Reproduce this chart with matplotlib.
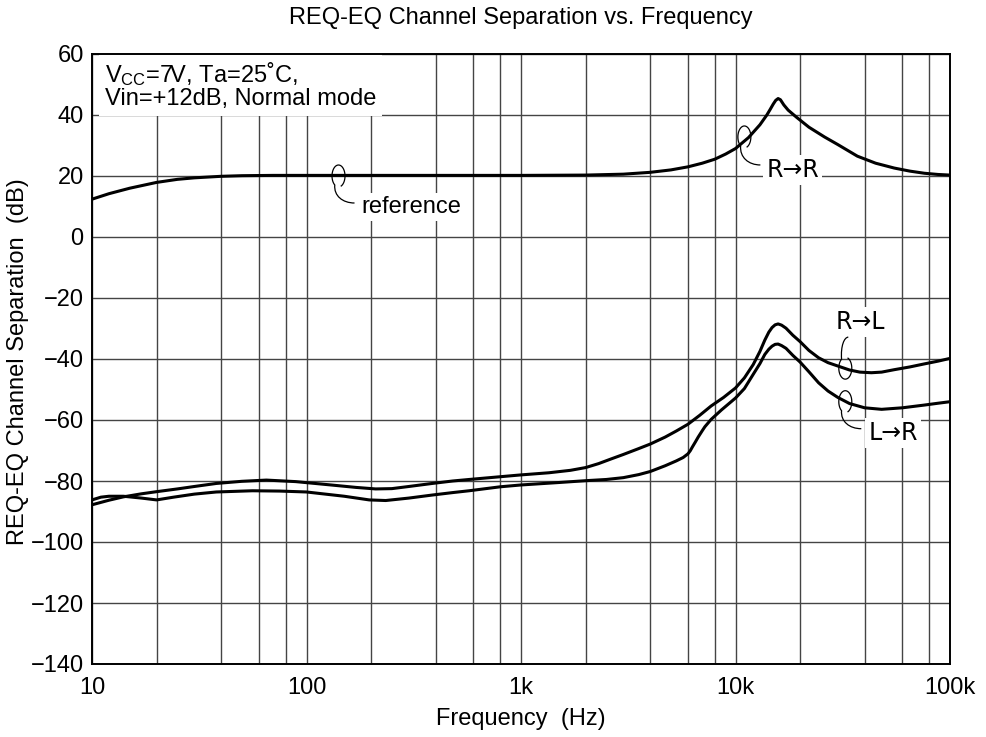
import numpy as np
import matplotlib
matplotlib.use('Agg')
import matplotlib.pyplot as plt
import matplotlib.transforms as mtransforms
from matplotlib.path import Path
from matplotlib.patches import PathPatch

plt.rcParams['font.family'] = ['Liberation Sans', 'DejaVu Sans']
plt.rcParams['mathtext.fontset'] = 'custom'
plt.rcParams['mathtext.rm'] = 'Liberation Sans'
plt.rcParams['mathtext.it'] = 'Liberation Sans:italic'

# reference / R->R (one continuous trace)
f_rr = [10, 12, 15, 20, 25, 30, 40, 50, 70, 100, 200, 500, 1000, 2000, 3000, 4000,
        5000, 6000, 7000, 8000, 9000, 10000, 11500, 13000, 14000, 14500, 15000, 15400,
        15800, 16200, 16800, 17600, 18500, 19300, 22000, 26000, 30000, 37000, 45000,
        55000, 65000, 76000, 88000, 100000]
db_rr = [12.4, 14.2, 16.0, 17.9, 18.9, 19.4, 19.9, 20.1, 20.2, 20.2, 20.2, 20.2, 20.2,
         20.3, 20.6, 21.2, 22.0, 23.0, 24.2, 25.5, 27.2, 29.0, 32.6, 36.8, 40.0, 41.8,
         43.6, 44.8, 45.4, 45.0, 43.3, 41.6, 40.3, 39.2, 36.0, 32.8, 30.3, 26.5, 24.2,
         22.6, 21.6, 20.9, 20.5, 20.3]

# R->L
f_rl = [10, 12, 14, 17, 20, 25, 30, 38, 50, 65, 89, 130, 170, 210, 250, 300, 386, 480,
        573, 800, 1000, 1350, 1700, 2000, 2300, 2600, 3000, 3500, 4000, 4700, 5300,
        6000, 6800, 7700, 8800, 10000, 11000, 12100, 13000, 13700, 14300, 14800, 15300,
        15800, 16400, 17200, 18500, 20000, 22000, 24400, 27000, 30000, 34000, 38000,
        43000, 48000, 55000, 65000, 76000, 88000, 100000]
db_rl = [-87.8, -86.3, -85.2, -84.2, -83.5, -82.6, -81.8, -80.8, -80.1, -79.7, -80.2,
         -81.3, -82.1, -82.6, -82.5, -81.8, -80.8, -80.0, -79.5, -78.6, -78.0, -77.3,
         -76.5, -75.6, -74.3, -72.9, -71.3, -69.5, -67.9, -65.6, -63.6, -61.4, -58.5,
         -55.4, -52.6, -49.5, -46.2, -41.8, -37.5, -33.8, -31.2, -29.7, -28.8, -28.5,
         -28.9, -29.9, -32.2, -34.3, -37.2, -39.6, -41.2, -42.3, -43.6, -44.3, -44.5,
         -44.3, -43.5, -42.6, -41.6, -40.7, -39.8]

# L->R
f_lr = [10, 11, 12, 14, 17, 20, 24, 30, 38, 56, 75, 100, 150, 196, 234, 300, 386, 480,
        573, 800, 1000, 1500, 2000, 2500, 3000, 3540, 4000, 4700, 5300, 5700, 6000,
        6150, 6300, 6500, 6700, 7000, 7200, 7700, 8600, 10000, 11000, 12100, 13000,
        13700, 14300, 14800, 15300, 15800, 16400, 17200, 18500, 20000, 22000, 24400,
        27000, 30000, 34000, 40000, 48000, 60000, 76000, 88000, 100000]
db_lr = [-86.2, -85.3, -85.0, -85.0, -85.6, -86.2, -85.3, -84.3, -83.6, -83.2, -83.3,
         -83.6, -85.0, -86.2, -86.4, -85.6, -84.6, -83.8, -83.2, -81.9, -81.3, -80.5,
         -79.9, -79.5, -78.9, -77.9, -76.9, -75.0, -73.4, -72.3, -71.1, -70.1, -68.8,
         -67.2, -65.6, -63.5, -62.2, -59.8, -56.7, -52.8, -49.7, -45.0, -41.5, -38.5,
         -36.8, -35.8, -35.2, -35.1, -35.6, -36.5, -38.8, -41.0, -44.2, -47.8, -50.5,
         -52.6, -54.6, -56.0, -56.5, -56.0, -55.1, -54.5, -54.0]

xticks = [10, 100, 1000, 10000, 100000]
xticklabels = ['10', '100', '1k', '10k', '100k']
yticks = list(range(-140, 61, 20))

fig = plt.figure(figsize=(9.86, 7.37), dpi=100)
ax = fig.add_axes([92/986, 1-664/737, 858/986, 610/737])

for fx, fy in [(f_rr, db_rr), (f_rl, db_rl), (f_lr, db_lr)]:
    ax.semilogx(fx, fy, color='black', lw=2.2, solid_joinstyle='round',
                solid_capstyle='butt', zorder=5)

ax.set_xlim(10, 100000)
ax.set_ylim(-140, 60)
ax.set_xticks(xticks)
ax.set_xticklabels(xticklabels)
ax.set_xticks([m * 10**d for d in range(1, 5) for m in (2, 4, 6, 8)], minor=True)
ax.xaxis.set_minor_formatter(matplotlib.ticker.NullFormatter())
ax.set_yticks(yticks)
ax.grid(True, which='both', color='#444444', lw=1.0)
ax.tick_params(which='both', length=0, labelsize=17, colors='black')
ax.tick_params(axis='x', pad=9)
ax.tick_params(axis='y', pad=6)
for s in ax.spines.values():
    s.set_linewidth(1.4)
    s.set_color('black')
    s.set_zorder(6)

fig.text(521/986, 1-719/737, 'Frequency  (Hz)', ha='center', va='center', fontsize=17)
fig.text(18/986, 1-362/737, 'REQ-EQ Channel Separation  (dB)', ha='center',
         va='center', rotation=90, fontsize=17)
fig.text(521/986, 1-18/737, 'REQ-EQ Channel Separation vs. Frequency', ha='center',
         va='center', fontsize=17)

ax.text(0.015, 0.99, 'V$_{\\mathrm{CC}}$=7V, Ta=25˚C,\nVin=+12dB, Normal mode',
        transform=ax.transAxes, ha='left', va='top', fontsize=17, linespacing=1.0,
        bbox=dict(facecolor='white', edgecolor='none', pad=4), zorder=4)

lbl = dict(fontsize=17, va='center', zorder=7, family='DejaVu Sans',
           bbox=dict(facecolor='white', edgecolor='none', pad=2))
ax.text(180, 9.8, 'reference', ha='left', **dict(lbl, family='Liberation Sans'))
ax.text(13900, 22, 'R→R', ha='left', **lbl)
ax.text(38100, -27.9, 'R→L', ha='center', **lbl)
ax.text(41600, -64.3, 'L→R', ha='left', **lbl)


def leader(fx, fy, end, up=False):
    # small loop around the trace with a tail towards the label (pixel space)
    cx, cy = ax.transData.transform((fx, fy))
    t = np.linspace(np.radians(-70), np.radians(235), 40)
    xs = 6.5 * np.cos(t)
    ys = 11 * np.sin(t)
    if up:
        ys = -ys
    verts = [(cx + a, cy + b) for a, b in zip(xs, ys)]
    codes = [Path.MOVETO] + [Path.LINETO] * (len(verts) - 1)
    x0, y0 = verts[-1]
    ex, ey = cx + end[0], cy + end[1]
    c1 = (x0 - 1, y0 + (ey - y0) * 0.6)
    c2 = (ex - (ex - x0) * 0.6, ey)
    verts += [c1, c2, (ex, ey)]
    codes += [Path.CURVE4] * 3
    fig.add_artist(PathPatch(Path(verts, codes), fill=False, lw=0.9, color='black',
                             transform=mtransforms.IdentityTransform(), zorder=8))


leader(141, 20, (16, -27))
leader(11000, 32.8, (16, -28))
leader(32500, -43, (3, 31), up=True)
leader(32500, -54, (16, -27))

fig.savefig('out.png', dpi=100, facecolor='white')
